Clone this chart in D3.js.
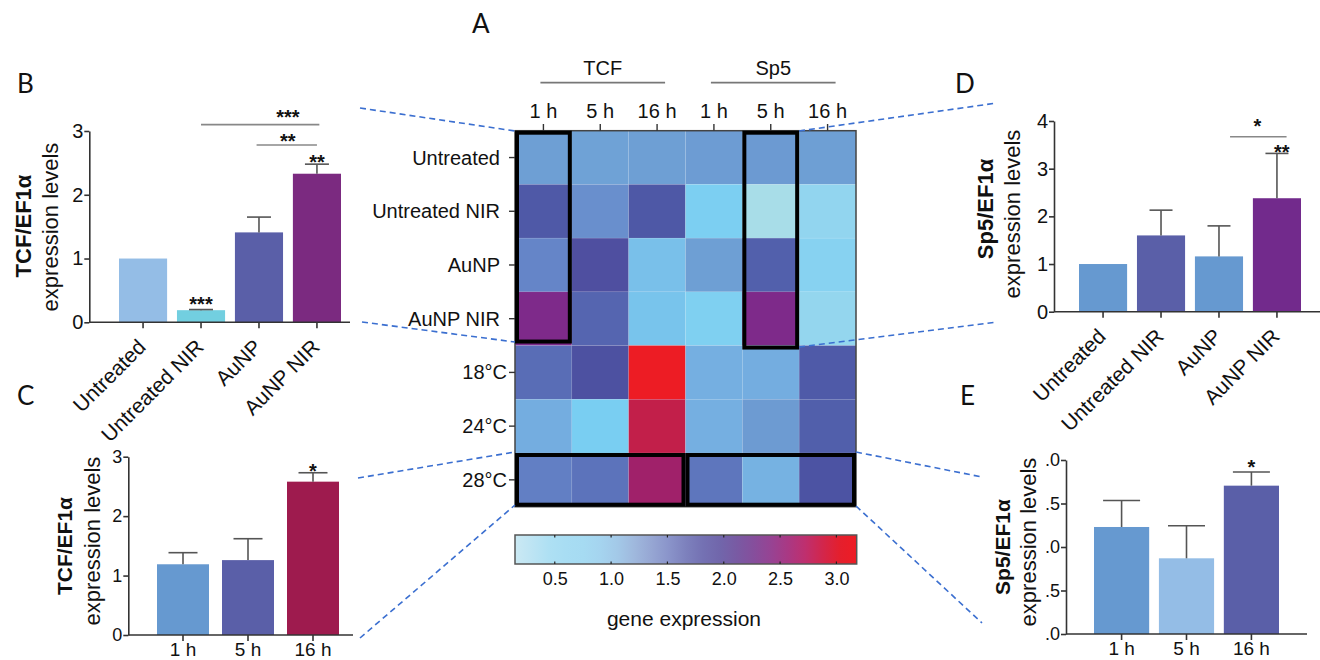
<!DOCTYPE html>
<html>
<head>
<meta charset="utf-8">
<script src="https://cdn.jsdelivr.net/npm/d3@7"></script>
<style>
  body { margin: 0; background: #fff; }
  svg text { font-family: "Liberation Sans", Arial, sans-serif; fill: #111; }
  .letter { font-family: Lato, "Open Sans", sans-serif !important; font-size: 26px; }
</style>
</head>
<body>
<script>
//bar chart data
var groups = ["Untreated", "Untreated NIR", "AuNP", "AuNP NIR"];
var hours = ["1 h", "5 h", "16 h"];
var tcfLevels = [1.0, 0.19, 1.41, 2.33];
var tcfErr = [0, 0.01, 0.24, 0.15];
var sp5Levels = [1.0, 1.6, 1.16, 2.38];
var sp5Err = [0, 0.53, 0.64, 0.94];
var tcf28 = [1.19, 1.26, 2.58];
var tcf28Err = [0.195, 0.36, 0.15];
var sp528 = [1.23, 0.87, 1.705];
var sp528Err = [0.305, 0.375, 0.157];
var tcfTicks = [0, 1, 2, 3];
var sp5Ticks = [0, 1, 2, 3, 4];
var sp5TimeTicks = [0, 0.5, 1, 1.5, 2];
var sp5TimeTickLabels = [".0", ".5", ".0", ".5", ".0"];

//heatmap data
var genes = ["TCF", "Sp5"];
var heatCols = ["TCF 1 h", "TCF 5 h", "TCF 16 h", "Sp5 1 h", "Sp5 5 h", "Sp5 16 h"];
var heatColLabels = ["1 h", "5 h", "16 h", "1 h", "5 h", "16 h"];
var heatRows = ["Untreated", "Untreated NIR", "AuNP", "AuNP NIR", "18°C", "24°C", "28°C"];
var heatValues = [
  [1.0, 0.98, 1.0, 1.02, 1.04, 1.0],
  [1.6, 1.12, 1.62, 0.62, 0.3, 0.48],
  [1.2, 1.75, 0.75, 1.0, 1.5, 0.55],
  [2.3, 1.45, 0.72, 0.6, 2.3, 0.46],
  [1.37, 1.72, 3.1, 0.88, 0.9, 1.58],
  [0.9, 0.64, 2.85, 0.88, 1.03, 1.52],
  [1.24, 1.32, 2.6, 1.3, 0.86, 1.68]
];
var colorbarTicks = [0.5, 1.0, 1.5, 2.0, 2.5, 3.0];

//colour stops
var cellStops = [0.3, 0.5, 0.65, 0.8, 0.9, 1.0, 1.2, 1.35, 1.5, 1.7, 2.3, 2.6, 2.85, 3.1];
var cellColors = ["#a8dde8", "#8fd4f0", "#77cef2", "#7ab9e6", "#74ade0", "#6e9fd4", "#6585c8",
                  "#5a6fb8", "#5260ac", "#4b52a2", "#7e2a8a", "#a0216a", "#c21f4a", "#ed1c24"];
var barStops = [0.15, 0.5, 0.8, 1.0, 1.25, 1.5, 1.75, 2.0, 2.25, 2.5, 2.75, 3.0, 3.18];
var barColors = ["#cbe9f3", "#a9def3", "#a6daf2", "#a4cfec", "#9eb3da", "#8b96cb", "#7676b6",
                 "#7063a9", "#844f9d", "#a03d8e", "#c22d6a", "#e2202f", "#ee1c24"];

var width = 1320, height = 660;
var svg = d3.select("body").append("svg")
    .attr("width", width)
    .attr("height", height);

// one bar panel
function barPanel(o) {
  var x = d3.scaleBand().domain(o.cats).range(o.xr).paddingInner(o.pad);
  var y = d3.scaleLinear().domain(o.yd).range(o.yr);
  var g = svg.append("g");

  g.selectAll("rect.bar").data(o.vals).join("rect")
      .attr("class", "bar")
      .attr("x", function(d, i) { return x(o.cats[i]); })
      .attr("y", function(d) { return y(d); })
      .attr("width", x.bandwidth())
      .attr("height", function(d) { return y(0) - y(d); })
      .attr("fill", function(d, i) { return o.colors[i]; });

  //error bars, upper only
  o.errs.forEach(function(e, i) {
    if (!e) return;
    var cx = x(o.cats[i]) + x.bandwidth() / 2;
    g.append("line").attr("x1", cx).attr("x2", cx)
        .attr("y1", y(o.vals[i])).attr("y2", y(o.vals[i] + e))
        .attr("stroke", "#555").attr("stroke-width", 1.6);
    g.append("line").attr("x1", cx - o.cap / 2).attr("x2", cx + o.cap / 2)
        .attr("y1", y(o.vals[i] + e)).attr("y2", y(o.vals[i] + e))
        .attr("stroke", "#555").attr("stroke-width", 1.6);
  });

  var ya = d3.axisLeft(y).tickValues(o.ticks).tickSize(5).tickPadding(1).tickSizeOuter(0);
  if (o.tickLabels) ya.tickFormat(function(d, i) { return o.tickLabels[i]; });
  else ya.tickFormat(d3.format("d"));
  var yg = g.append("g").attr("transform", "translate(" + o.ax + ",0)").call(ya);
  yg.selectAll("path, line").attr("stroke", "#333").attr("stroke-width", 1.6);
  yg.selectAll("text").style("font-size", o.tickFont + "px").attr("fill", "#111");

  var xa = d3.axisBottom(x).tickSize(6).tickSizeOuter(0).tickPadding(4);
  var xg = g.append("g").attr("transform", "translate(0," + y(0) + ")").call(xa);
  xg.select(".domain").remove();
  xg.selectAll("line").attr("stroke", "#333").attr("stroke-width", 1.6);
  xg.append("line").attr("x1", o.ax).attr("x2", o.axEnd)
      .attr("stroke", "#333").attr("stroke-width", 1.6);
  var xt = xg.selectAll("text").attr("fill", "#111").style("font-size", o.labelFont + "px");
  if (o.rotate) {
    xt.attr("y", null).attr("dy", null)
      .attr("text-anchor", "end")
      .attr("transform", "translate(4,26) rotate(-45)");
  } else {
    xt.attr("y", 21).attr("dy", null);
  }

  //axis title
  g.append("text")
      .attr("transform", "translate(" + o.t1x + "," + o.t1y + ") rotate(-90)")
      .attr("text-anchor", "middle").attr("dy", "0.35em")
      .style("font-size", o.t1Font + "px").style("font-weight", "bold")
      .text(o.title1);
  g.append("text")
      .attr("transform", "translate(" + o.t2x + "," + o.t2y + ") rotate(-90)")
      .attr("text-anchor", "middle").attr("dy", "0.35em")
      .style("font-size", "22px")
      .text("expression levels");

  //significance marks
  (o.lines || []).forEach(function(l) {
    g.append("line")
        .attr("x1", x(l.from) + x.bandwidth() * l.f1).attr("x2", x(l.to) + x.bandwidth() * l.f2)
        .attr("y1", y(l.v)).attr("y2", y(l.v))
        .attr("stroke", "#888").attr("stroke-width", 1.6);
  });
  (o.stars || []).forEach(function(s) {
    g.append("text")
        .attr("x", x(s.cat) + x.bandwidth() * s.f)
        .attr("y", y(s.v) + 11)
        .attr("text-anchor", "middle")
        .style("font-size", "20px").style("font-weight", "bold")
        .text(s.text);
  });
}

// B
barPanel({
  cats: groups, vals: tcfLevels, errs: tcfErr,
  colors: ["#94bde6", "#72cfe0", "#5a5fa8", "#7b2a80"],
  xr: [119, 341], pad: 0.17, yd: [0, 3], yr: [322.3, 131], ax: 89.3, axEnd: 350,
  ticks: tcfTicks, tickFont: 20, labelFont: 21, rotate: true, cap: 24,
  title1: "TCF/EF1α", t1Font: 22, t1x: 23, t1y: 226, t2x: 50, t2y: 227,
  lines: [{from: "Untreated NIR", to: "AuNP NIR", v: 3.1, f1: 0.5, f2: 0.55},
          {from: "AuNP", to: "AuNP NIR", v: 2.78, f1: 0.45, f2: 0.5}],
  stars: [{cat: "Untreated NIR", f: 0.5, v: 0.345, text: "***"},
          {cat: "AuNP NIR", f: 0.5, v: 2.57, text: "**"},
          {cat: "AuNP", f: 1.1, v: 3.28, text: "***"},
          {cat: "AuNP", f: 1.1, v: 2.91, text: "**"}]
});

// C
barPanel({
  cats: hours, vals: tcf28, errs: tcf28Err,
  colors: ["#6699d0", "#5a5fa8", "#9e1b4e"],
  xr: [157, 339], pad: 0.2, yd: [0, 3], yr: [635, 456.7], ax: 128.3, axEnd: 353,
  ticks: tcfTicks, tickFont: 18, labelFont: 19, rotate: false, cap: 29,
  title1: "TCF/EF1α", t1Font: 21, t1x: 65, t1y: 546, t2x: 92, t2y: 541,
  stars: [{cat: "16 h", f: 0.5, v: 2.83, text: "*"}]
});

// D
barPanel({
  cats: groups, vals: sp5Levels, errs: sp5Err,
  colors: ["#6699d0", "#5a5fa8", "#6699d0", "#722a8c"],
  xr: [1079, 1301], pad: 0.17, yd: [0, 4], yr: [311.7, 121], ax: 1054, axEnd: 1320,
  ticks: sp5Ticks, tickFont: 20, labelFont: 21, rotate: true, cap: 23,
  title1: "Sp5/EF1α", t1Font: 22, t1x: 985, t1y: 209, t2x: 1012, t2y: 214,
  lines: [{from: "AuNP", to: "AuNP NIR", v: 3.67, f1: 0.73, f2: 0.7}],
  stars: [{cat: "AuNP NIR", f: 0.6, v: 3.43, text: "**"},
          {cat: "AuNP", f: 1.3, v: 3.98, text: "*"}]
});

// E
barPanel({
  cats: hours, vals: sp528, errs: sp528Err,
  colors: ["#6699d0", "#94bde6", "#5a5fa8"],
  xr: [1094, 1279], pad: 0.15, yd: [0, 2], yr: [634, 460], ax: 1066, axEnd: 1307,
  ticks: sp5TimeTicks, tickLabels: sp5TimeTickLabels, tickFont: 18, labelFont: 19, rotate: false, cap: 37,
  title1: "Sp5/EF1α", t1Font: 21, t1x: 1003, t1y: 547, t2x: 1028, t2y: 542,
  stars: [{cat: "16 h", f: 0.5, v: 1.96, text: "*"}]
});

// A: heatmap
var hx = d3.scaleBand().domain(heatCols).range([515, 856]);
var hy = d3.scaleBand().domain(heatRows).range([130.7, 506.7]);
var cellColor = d3.scaleLinear().domain(cellStops).range(cellColors).clamp(true);

var cells = [];
heatValues.forEach(function(row, r) {
  row.forEach(function(v, c) { cells.push({r: heatRows[r], c: heatCols[c], v: v}); });
});
svg.append("g").selectAll("rect").data(cells).join("rect")
    .attr("x", function(d) { return hx(d.c); })
    .attr("y", function(d) { return hy(d.r); })
    .attr("width", hx.bandwidth())
    .attr("height", hy.bandwidth())
    .attr("fill", function(d) { return cellColor(d.v); })
    .attr("stroke", "rgba(255,255,255,0.12)").attr("stroke-width", 0.6);

svg.append("rect").attr("x", 515).attr("y", 130.7).attr("width", 341).attr("height", 376)
    .attr("fill", "none").attr("stroke", "#444").attr("stroke-width", 1.5);

//row labels and ticks
heatRows.forEach(function(r, i) {
  var cy = hy(r) + hy.bandwidth() / 2;
  svg.append("line").attr("x1", 509).attr("x2", 515).attr("y1", cy).attr("y2", cy)
      .attr("stroke", "#333").attr("stroke-width", 1.4);
  svg.append("text").attr("x", i < 4 ? 500 : 507).attr("y", cy).attr("dy", "0.35em")
      .attr("text-anchor", "end").style("font-size", "20px").text(r);
});

//column labels and ticks
heatCols.forEach(function(c, i) {
  var cx = hx(c) + hx.bandwidth() / 2;
  svg.append("line").attr("x1", cx).attr("x2", cx).attr("y1", 124).attr("y2", 130.7)
      .attr("stroke", "#333").attr("stroke-width", 1.4);
  svg.append("text").attr("x", cx).attr("y", 118).attr("text-anchor", "middle")
      .style("font-size", "20px").text(heatColLabels[i]);
});

//gene headers
genes.forEach(function(gname, i) {
  var c0 = hx(heatCols[i * 3]) + hx.bandwidth() / 2 - 3;
  var c1 = hx(heatCols[i * 3 + 2]) + hx.bandwidth() / 2 + 8;
  svg.append("line").attr("x1", c0).attr("x2", c1).attr("y1", 82.7).attr("y2", 82.7)
      .attr("stroke", "#777").attr("stroke-width", 1.8);
  svg.append("text").attr("x", (c0 + c1) / 2).attr("y", 75).attr("text-anchor", "middle")
      .style("font-size", "20px").text(gname);
});

//black highlight boxes
var bw = hx.bandwidth(), bh = hy.bandwidth();
var boxes = [
  {x: hx(heatCols[0]), y: hy(heatRows[0]), w: bw, h: bh * 4 - 2},
  {x: hx(heatCols[4]), y: hy(heatRows[0]), w: bw, h: bh * 4 + 4},
  {x: hx(heatCols[0]), y: hy(heatRows[6]), w: bw * 3, h: bh},
  {x: hx(heatCols[3]), y: hy(heatRows[6]), w: bw * 3, h: bh}
];
svg.append("g").selectAll("rect").data(boxes).join("rect")
    .attr("x", function(d) { return d.x + 2; })
    .attr("y", function(d) { return d.y + 2; })
    .attr("width", function(d) { return d.w - 4; })
    .attr("height", function(d) { return d.h - 4; })
    .attr("fill", "none").attr("stroke", "#000").attr("stroke-width", 4);

//colour bar
var cbScale = d3.scaleLinear().domain(barStops).range(barColors);
var cbx = d3.scaleLinear().domain([0.147, 3.18]).range([515, 856.7]);
var grad = svg.append("defs").append("linearGradient").attr("id", "cbgrad");
d3.range(0, 1.0001, 0.05).forEach(function(t) {
  var v = 0.147 + t * (3.18 - 0.147);
  grad.append("stop").attr("offset", (t * 100) + "%").attr("stop-color", cbScale(v));
});
svg.append("rect").attr("x", 515).attr("y", 535).attr("width", 341.7).attr("height", 29)
    .attr("fill", "url(#cbgrad)").attr("stroke", "#555").attr("stroke-width", 1.5);
var cbAxis = svg.append("g").attr("transform", "translate(0,564)")
    .call(d3.axisBottom(cbx).tickValues(colorbarTicks).tickFormat(d3.format(".1f")).tickSize(0).tickPadding(8));
cbAxis.select(".domain").remove();
cbAxis.selectAll("text").style("font-size", "18px").attr("fill", "#111");
colorbarTicks.forEach(function(t) {
  svg.append("line").attr("x1", cbx(t)).attr("x2", cbx(t)).attr("y1", 535).attr("y2", 537.5)
      .attr("stroke", "#222").attr("stroke-width", 1.2);
  svg.append("line").attr("x1", cbx(t)).attr("x2", cbx(t)).attr("y1", 561.5).attr("y2", 564)
      .attr("stroke", "#222").attr("stroke-width", 1.2);
});
svg.append("text").attr("x", 684).attr("y", 626).attr("text-anchor", "middle")
    .style("font-size", "21px").text("gene expression");

//dashed connectors
var dash = [
  [360, 108, 515, 131], [362, 322, 515, 342],
  [799, 131, 997, 103], [799, 347, 997, 322],
  [358, 478, 515, 452], [360, 638, 515, 505],
  [856, 452, 982, 477], [856, 506, 982, 623]
];
svg.append("g").selectAll("line").data(dash).join("line")
    .attr("x1", function(d) { return d[0]; }).attr("y1", function(d) { return d[1]; })
    .attr("x2", function(d) { return d[2]; }).attr("y2", function(d) { return d[3]; })
    .attr("stroke", "#3b6fd0").attr("stroke-width", 1.6).attr("stroke-dasharray", "6,4");

//panel letters
var letters = [["A", 472, 33], ["B", 17, 93], ["C", 17, 405], ["D", 955, 93], ["E", 960, 405]];
letters.forEach(function(l) {
  svg.append("text").attr("class", "letter").attr("x", l[1]).attr("y", l[2]).text(l[0]);
});
</script>
</body>
</html>
